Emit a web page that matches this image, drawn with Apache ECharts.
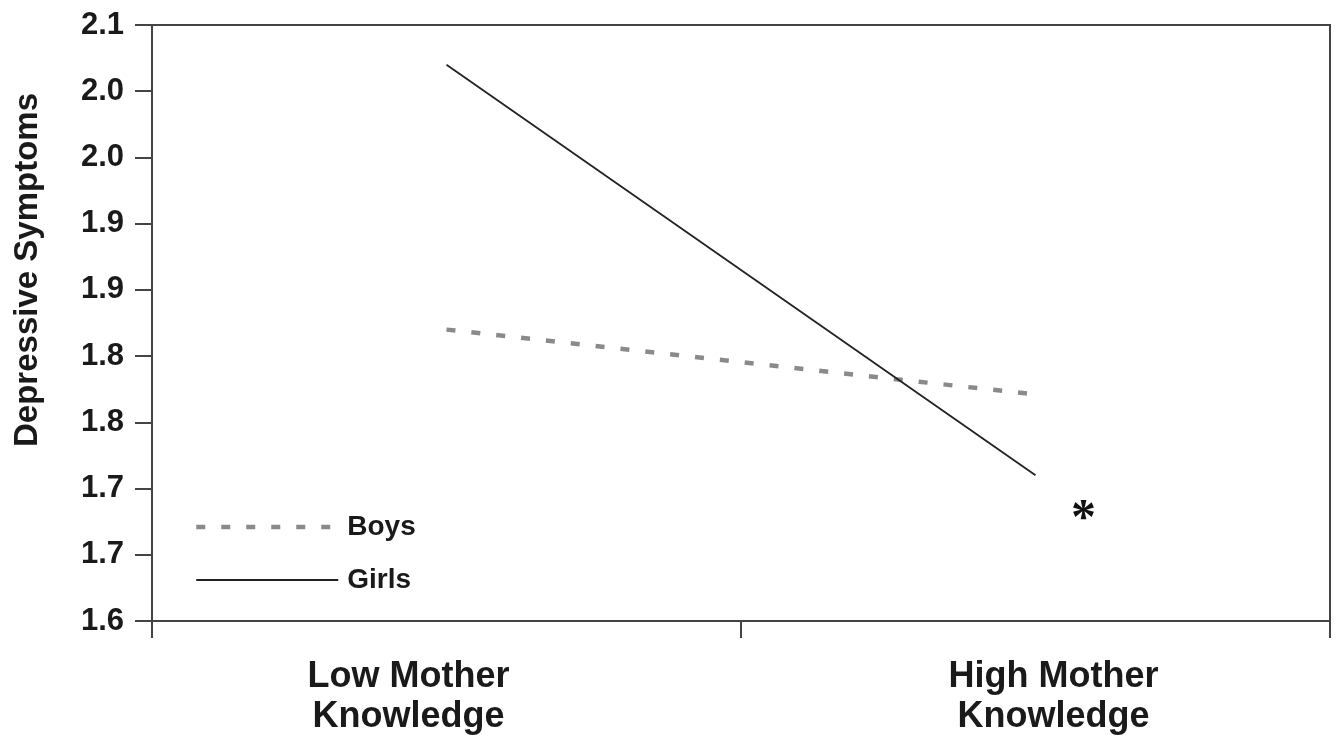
<!DOCTYPE html>
<html>
<head>
<meta charset="utf-8">
<script src="https://cdn.jsdelivr.net/npm/echarts@6/dist/echarts.min.js"></script>
<style>
  html, body { margin: 0; padding: 0; background: #fff; }
  #chart { width: 1339px; height: 743px; }
</style>
</head>
<body>
<div id="chart"></div>
<script>
// data
const categories = ['Low Mother\nKnowledge', 'High Mother\nKnowledge']
const boys = [1.82, 1.771]
const girls = [2.02, 1.71]
const yTickLabels = ['1.6', '1.7', '1.7', '1.8', '1.8', '1.9', '1.9', '2.0', '2.0', '2.1']
const star = ['High Mother\nKnowledge', 1.682]

const font = 'Liberation Sans, Arial, sans-serif'
// the labels in the figure sit a bit off the category centres
const labelPadding = [[0, 76, 0, 0], [0, 0, 0, 36]]

let chart = echarts.init(document.getElementById('chart'))

const option = {
  backgroundColor: '#fff',
  animation: false,
  grid: {
    left: 152,
    right: 9,
    top: 25,
    bottom: 122,
    show: true,
    borderColor: '#444',
    borderWidth: 2
  },
  legend: {
    orient: 'vertical',
    left: 189,
    top: 501,
    itemWidth: 142,
    itemHeight: 14,
    itemGap: 11,
    data: ['Boys', 'Girls'],
    itemStyle: { opacity: 0 },
    lineStyle: { width: 'inherit' },
    textStyle: {
      fontFamily: font,
      fontWeight: 'bold',
      fontSize: 28,
      lineHeight: 30,
      color: '#1a1a1a',
      padding: [12, 0, 0, 4]
    }
  },
  xAxis: {
    type: 'category',
    data: categories.map((c, i) => ({ value: c, textStyle: { padding: labelPadding[i] } })),
    boundaryGap: true,
    axisLine: { lineStyle: { color: '#444', width: 2 } },
    axisTick: { show: true, length: 17, lineStyle: { color: '#444', width: 2 } },
    axisLabel: {
      margin: 36,
      fontFamily: font,
      fontWeight: 'bold',
      fontSize: 36,
      lineHeight: 40,
      color: '#1a1a1a'
    },
    splitLine: { show: false }
  },
  yAxis: {
    type: 'value',
    min: 1.6,
    max: 2.05,
    interval: 0.05,
    name: 'Depressive Symptoms',
    nameLocation: 'middle',
    nameGap: 108,
    nameTextStyle: {
      fontFamily: font,
      fontWeight: 'bold',
      fontSize: 33,
      color: '#1a1a1a',
      padding: [0, 0, 0, 106]
    },
    axisLine: { show: true, lineStyle: { color: '#444', width: 2 } },
    axisTick: { show: true, length: 17, lineStyle: { color: '#444', width: 2 } },
    axisLabel: {
      margin: 28,
      fontFamily: font,
      fontWeight: 'bold',
      fontSize: 31,
      color: '#1a1a1a',
      formatter: function (v) {
        return yTickLabels[Math.round((v - 1.6) / 0.05)]
      }
    },
    splitLine: { show: false }
  },
  series: [
    {
      name: 'Boys',
      type: 'line',
      data: boys,
      symbol: 'none',
      itemStyle: { color: '#8a8a8a' },
      lineStyle: { color: '#8a8a8a', width: 4.5, type: [9, 16] }
    },
    {
      name: 'Girls',
      type: 'line',
      data: girls,
      symbol: 'none',
      itemStyle: { color: '#222' },
      lineStyle: { color: '#222', width: 1.8 },
      markPoint: {
        symbol: 'circle',
        symbolSize: 0,
        data: [{ coord: star }],
        label: {
          show: true,
          position: 'inside',
          offset: [48, 8],
          formatter: '*',
          fontFamily: 'Liberation Serif, serif',
          fontWeight: 'bold',
          fontSize: 50,
          color: '#111'
        }
      }
    }
  ]
}

chart.setOption(option)
</script>
</body>
</html>
